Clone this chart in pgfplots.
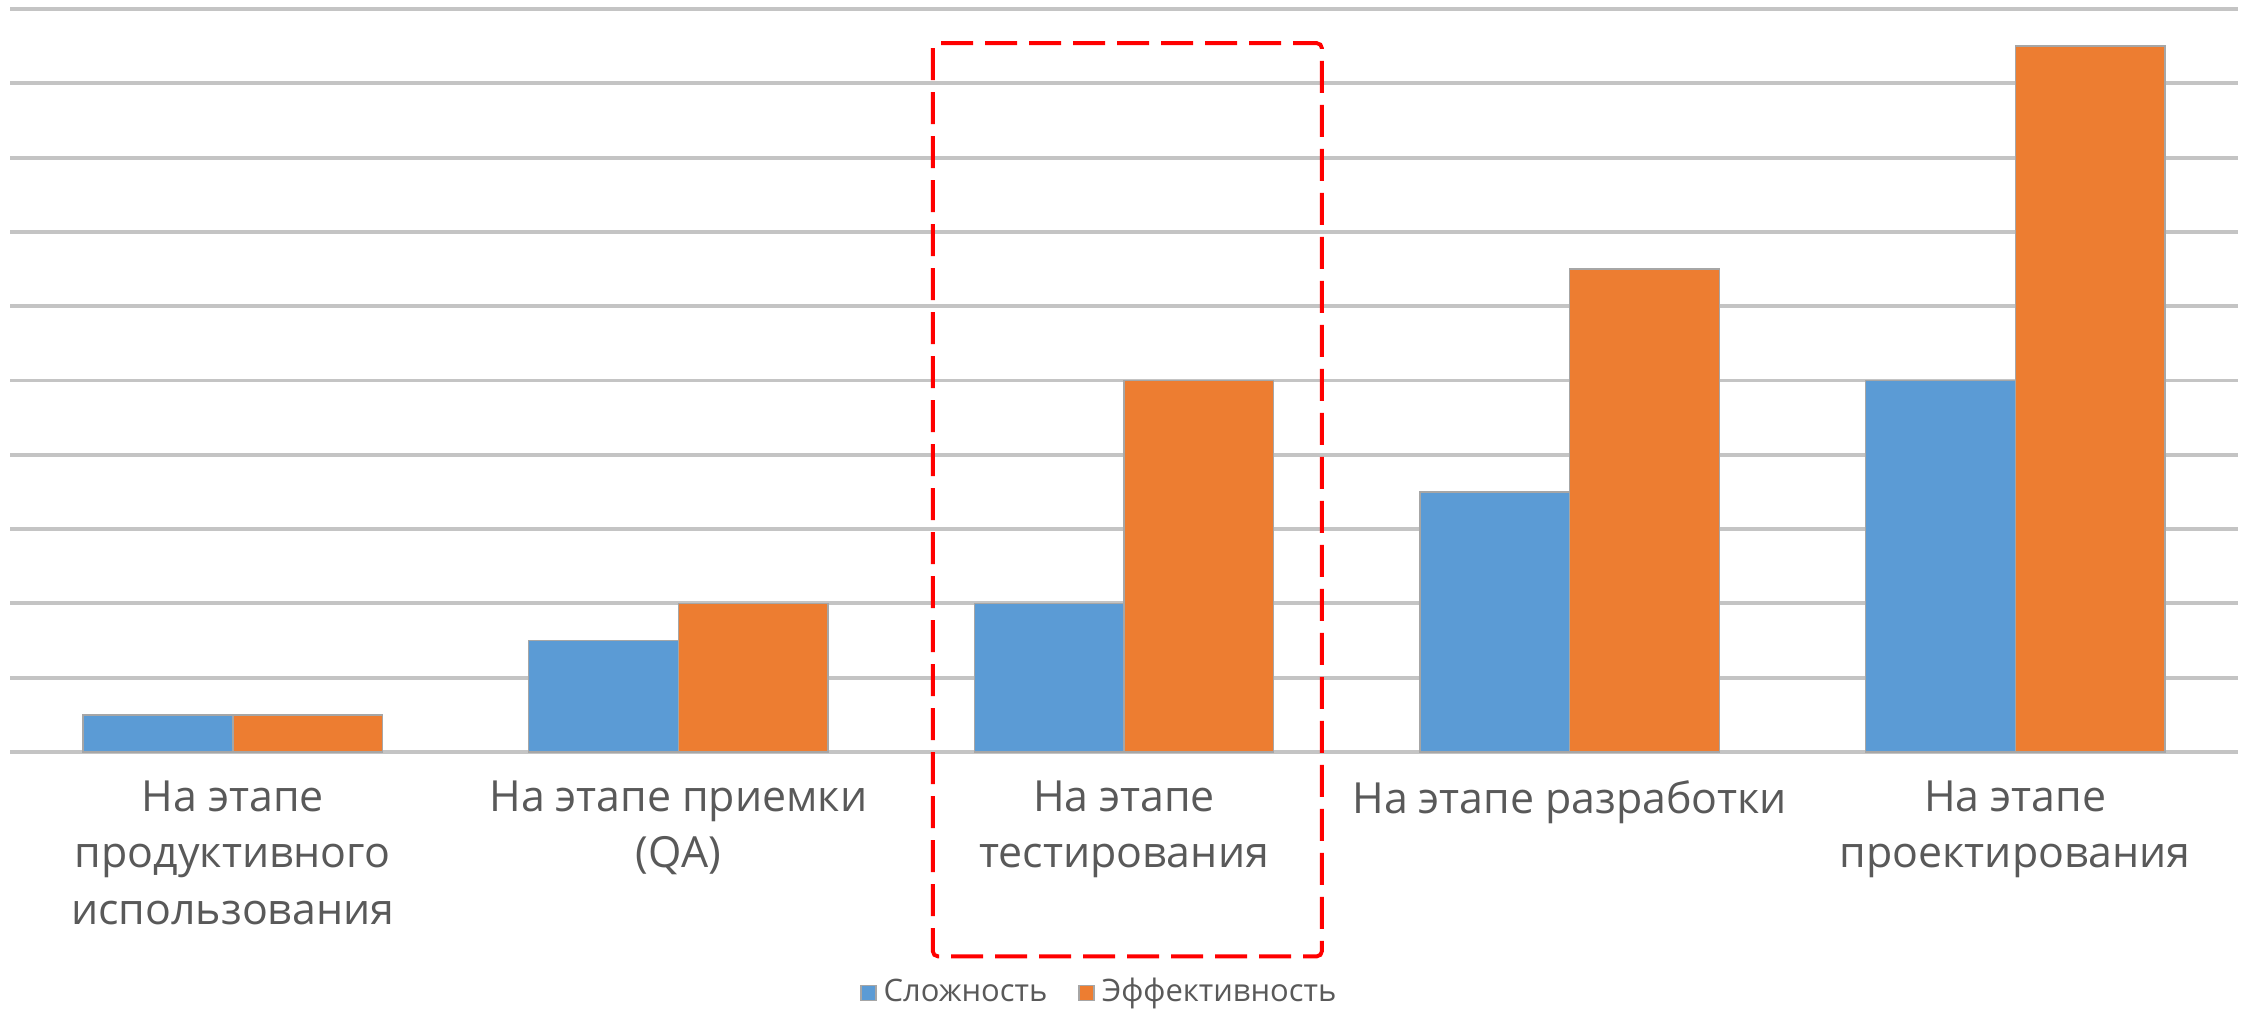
\documentclass[border=0pt]{standalone}
\usepackage{pgfplots}
\pgfplotsset{compat=1.18}
\usepackage{fontspec}
\setmainfont{Open Sans}

\definecolor{serblue}{HTML}{5B9BD5}
\definecolor{serorange}{HTML}{ED7D31}
\definecolor{txtgray}{HTML}{595959}
\definecolor{gridgray}{HTML}{C4C4C4}

\begin{document}
\begin{tikzpicture}
\useasboundingbox (-1mm,-26.4mm) rectangle (223.7mm,75.2mm);
\begin{axis}[
  scale only axis,
  width=222.8mm, height=74.3mm,
  at={(0,0)}, anchor=south west,
  ybar=0pt,
  bar width=0.336,
  xmin=-0.5, xmax=4.5,
  ymin=0, ymax=10,
  ytick={0,...,10},
  yticklabels={},
  xtick={0,...,4},
  xticklabels={
    {На этапе\\продуктивного\\использования},
    {На этапе приемки\\(QA)},
    {На этапе\\тестирования},
    {На этапе разработки},
    {На этапе\\проектирования}},
  xticklabel style={align=center, text=txtgray,
    font=\fontsize{12.2}{16.2}\selectfont, yshift=-1.6mm},
  major tick length=0pt,
  axis line style={draw=none},
  ymajorgrids,
  major grid style={draw=gridgray, line width=1.1pt},
  clip=false,
  legend columns=2,
  legend style={at={(rel axis cs:0.49,-0.324)}, anchor=center, draw=none,
    font=\fontsize{8.8}{10}\selectfont, text=txtgray,
    /tikz/every even column/.append style={column sep=2.4mm}},
  legend image code/.code={\fill[#1] (0mm,-0.75mm) rectangle (1.5mm,0.75mm);},
]
\addplot[fill=serblue, draw=black!35, line width=0.4pt] coordinates {
  (0,0.5) (1,1.5) (2,2) (3,3.5) (4,5)
};
\addplot[fill=serorange, draw=black!35, line width=0.4pt] coordinates {
  (0,0.5) (1,2) (2,5) (3,6.5) (4,9.5)
};
\legend{Сложность, Эффективность}
\draw[red, line width=1.1pt, dash pattern=on 3.2mm off 1.2mm, rounded corners=0.5mm]
  (axis cs:1.571,9.54) rectangle (axis cs:2.444,-2.75);
\end{axis}
\end{tikzpicture}
\end{document}
